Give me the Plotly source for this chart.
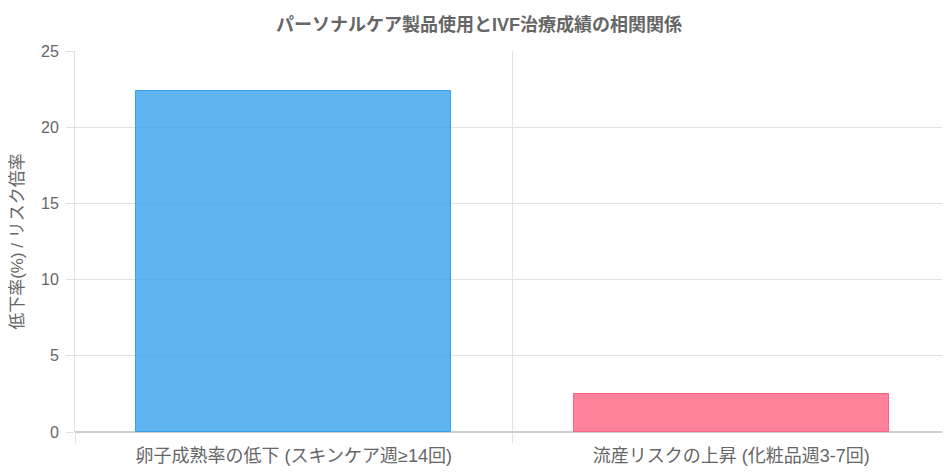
import plotly.graph_objects as go

TITLE = "パーソナルケア製品使用とIVF治療成績の相関関係"
Y_TITLE = "低下率(%) / リスク倍率"
CATEGORIES = ["卵子成熟率の低下 (スキンケア週≥14回)", "流産リスクの上昇 (化粧品週3-7回)"]
VALUES = [22.4, 2.5]
FILL_COLORS = ["rgba(54,162,235,0.8)", "rgba(255,99,132,0.8)"]
LINE_COLORS = ["rgb(54,162,235)", "rgb(255,99,132)"]

FONT = "Liberation Sans, Noto Sans CJK JP, sans-serif"
GRID = "#e1e1e1"

# the page body adds an 8px margin, so the figure is a bit smaller
# than the window and the margins are pulled in by the same amount
WIDTH = 942
HEIGHT = 467


def make_figure():
    fig = go.Figure()
    fig.add_trace(
        go.Bar(
            x=CATEGORIES,
            y=VALUES,
            width=0.72,
            marker=dict(color=FILL_COLORS, line=dict(color=LINE_COLORS, width=1)),
            hoverinfo="x+y",
        )
    )
    fig.update_layout(
        title=dict(
            text="<b>" + TITLE + "</b>",
            x=0.5,
            xanchor="center",
            y=1 - 17 / HEIGHT,
            yanchor="middle",
            font=dict(family=FONT, size=18, color="#666666"),
        ),
        width=WIDTH,
        height=HEIGHT,
        margin=dict(l=67, r=0, t=43, b=43),
        plot_bgcolor="white",
        paper_bgcolor="white",
        showlegend=False,
        font=dict(family=FONT, color="#666666"),
        bargap=0,
    )
    fig.update_xaxes(
        type="category",
        tickson="boundaries",
        showgrid=True,
        gridcolor=GRID,
        ticks="outside",
        ticklen=10,
        tickcolor=GRID,
        ticklabelstandoff=11,
        tickfont=dict(size=18, color="#666666"),
        showline=False,
        zeroline=False,
    )
    fig.update_yaxes(
        range=[0, 25],
        dtick=5,
        showgrid=True,
        gridcolor=GRID,
        ticks="outside",
        ticklen=8,
        tickcolor=GRID,
        ticklabelstandoff=4,
        tickfont=dict(size=16, color="#666666"),
        showline=True,
        linecolor=GRID,
        zeroline=True,
        zerolinecolor="#cfcfcf",
        title=dict(text=Y_TITLE, font=dict(size=17, color="#666666"), standoff=14),
    )
    return fig


fig = make_figure()
fig.write_html("out.html")
